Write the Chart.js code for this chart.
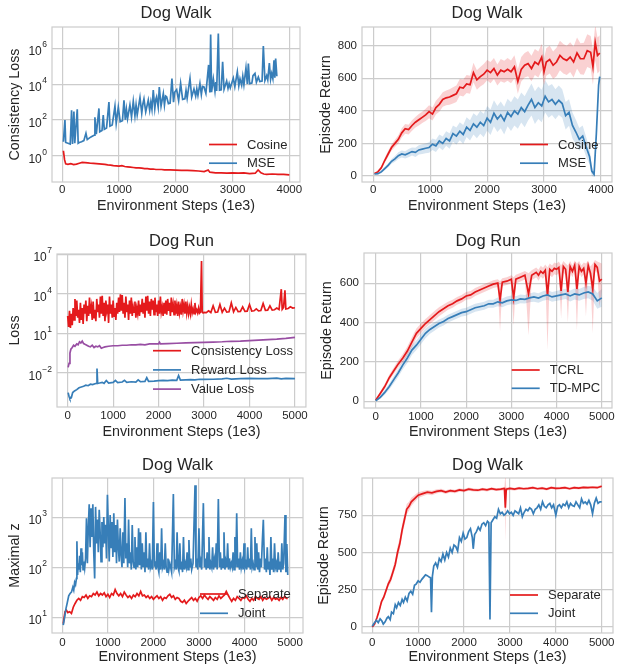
<!DOCTYPE html>
<html>
<head>
<meta charset="utf-8">
<script src="https://cdn.jsdelivr.net/npm/chart.js@4.4.0/dist/chart.umd.min.js"></script>
<style>
  body { margin: 0; background: #fff; width: 618px; height: 666px; position: relative; overflow: hidden; }
  canvas { position: absolute; }
</style>
</head>
<body>
<canvas id="walkLoss" width="310" height="222" style="left:0;top:0"></canvas>
<canvas id="walkReturn" width="308" height="222" style="left:310px;top:0"></canvas>
<canvas id="runLoss" width="310" height="222" style="left:0;top:222px"></canvas>
<canvas id="runReturn" width="308" height="222" style="left:310px;top:222px"></canvas>
<canvas id="walkZ" width="310" height="222" style="left:0;top:444px"></canvas>
<canvas id="walkSep" width="308" height="222" style="left:310px;top:444px"></canvas>
<script>
// ---- data, [step (1e3), value] or [step, mean, spread] ----

// Dog Walk, consistency loss
const walkCosineLoss = [[20,1.9],[40,0.6],[60,0.35],[100,0.33],[150,0.36],[200,0.32],[250,0.34],[300,0.38],[350,0.42],[400,0.41],[450,0.4],[500,0.38],[550,0.37],[600,0.36],[650,0.35],[700,0.34],[750,0.33],[800,0.31],[850,0.3],[900,0.28],[950,0.27],[1000,0.26],[1050,0.28],[1100,0.25],[1150,0.24],[1200,0.23],[1250,0.22],[1300,0.21],[1350,0.21],[1400,0.2],[1450,0.19],[1500,0.19],[1550,0.18],[1600,0.18],[1650,0.17],[1700,0.17],[1750,0.17],[1800,0.16],[1900,0.16],[2000,0.155],[2100,0.15],[2200,0.15],[2300,0.145],[2400,0.14],[2500,0.13],[2570,0.16],[2600,0.12],[2700,0.11],[2800,0.11],[2900,0.105],[3000,0.11],[3100,0.105],[3200,0.11],[3300,0.1],[3400,0.105],[3450,0.16],[3500,0.11],[3550,0.095],[3600,0.09],[3700,0.095],[3800,0.09],[3900,0.09],[4000,0.085]];
const walkMseLoss = [[20,6],[47,100],[60,5.5],[100,5],[140,4.5],[164,350],[180,4.5],[205,300],[220,5],[264,400],[280,5],[300,5.5],[340,6],[380,7],[417,18],[440,8],[480,10],[520,12],[560,14],[575,140],[600,16],[646,440],[660,22],[700,26],[722,190],[740,30],[780,36],[822,1000],[840,45],[880,52],[928,590],[950,64],[987,520],[1020,80],[1060,90],[1087,1260],[1110,102],[1130,400],[1150,118],[1192,700],[1220,145],[1251,1130],[1280,170],[1300,700],[1320,190],[1369,1800],[1400,238],[1420,800],[1439,1500],[1470,285],[1515,1300],[1540,350],[1560,1000],[1580,390],[1603,4700],[1630,440],[1650,1500],[1662,2000],[1690,520],[1709,7000],[1740,590],[1780,3000],[1800,680],[1820,2200],[1838,2000],[1870,810],[1900,870],[1932,21000],[1960,990],[1980,3500],[2015,5000],[2050,1200],[2085,11000],[2120,1400],[2160,1520],[2180,4500],[2200,1640],[2250,21000],[2280,1900],[2320,5500],[2350,2150],[2370,5500],[2390,2350],[2425,11000],[2450,2650],[2470,7500],[2496,7000],[2530,3050],[2578,120000],[2600,3450],[2614,6000000],[2630,3600],[2661,20000],[2690,4000],[2705,13000],[2720,4250],[2749,6800000],[2770,4600],[2800,4850],[2825,180000],[2850,5200],[2896,15000],[2920,5900],[2940,11000],[2960,6300],[3013,22000],[3040,7200],[3084,49000],[3110,8100],[3131,20000],[3160,8800],[3180,28000],[3200,9300],[3236,80000],[3260,10200],[3278,145000],[3300,10800],[3340,11500],[3360,30000],[3395,40000],[3420,13000],[3454,25000],[3480,14200],[3520,15000],[3542,1350000],[3570,16200],[3601,30000],[3620,17500],[3648,150000],[3670,18800],[3689,40000],[3710,20500],[3730,220000],[3745,23000],[3759,270000],[3780,28000]];

// Dog Walk, episode return [step, mean, spread]
const walkCosineReturn = [[20,15,5],[80,25,8],[140,50,12],[200,95,15],[260,135,18],[320,175,20],[380,200,22],[440,225,25],[500,265,28],[560,290,30],[620,285,30],[680,310,32],[740,330,32],[800,345,35],[860,360,35],[920,375,38],[980,395,40],[1040,380,40],[1100,420,42],[1160,440,45],[1220,470,45],[1280,480,45],[1340,485,48],[1400,495,50],[1460,505,50],[1520,545,50],[1580,540,52],[1640,565,55],[1700,560,55],[1760,635,60],[1820,590,60],[1880,610,60],[1940,625,62],[2000,650,62],[2060,635,65],[2120,660,65],[2180,620,65],[2240,650,68],[2300,640,68],[2360,655,70],[2420,640,70],[2480,670,72],[2540,580,75],[2600,655,75],[2660,680,75],[2720,690,78],[2780,660,78],[2840,700,80],[2900,685,80],[2960,730,82],[3000,640,82],[3040,700,85],[3100,715,85],[3160,680,85],[3220,700,88],[3280,740,90],[3340,720,90],[3400,710,90],[3460,730,92],[3520,700,95],[3580,755,95],[3640,720,95],[3700,720,98],[3760,770,100],[3820,760,100],[3860,670,110],[3900,820,110],[3940,740,110],[3980,755,110]];
const walkMseReturn = [[20,12,4],[80,14,5],[140,25,8],[200,45,10],[260,65,12],[320,90,15],[380,105,18],[440,125,20],[500,135,22],[560,130,22],[620,140,25],[680,150,25],[740,145,28],[800,160,28],[860,165,30],[920,170,30],[980,175,32],[1040,195,35],[1100,185,38],[1160,215,40],[1220,200,42],[1280,230,45],[1340,215,48],[1400,260,50],[1460,245,52],[1520,275,55],[1580,255,58],[1640,300,60],[1700,280,62],[1760,320,65],[1820,300,68],[1880,330,70],[1940,310,72],[2000,355,75],[2060,330,78],[2120,385,80],[2180,350,80],[2240,375,82],[2300,340,85],[2360,390,85],[2420,365,88],[2480,400,90],[2540,380,90],[2600,420,92],[2660,395,95],[2720,435,95],[2780,470,98],[2840,420,100],[2900,450,100],[2960,430,100],[3020,490,100],[3080,455,98],[3140,470,95],[3200,440,92],[3260,465,90],[3320,445,88],[3380,370,85],[3440,390,82],[3500,310,80],[3560,270,75],[3620,225,70],[3680,245,65],[3740,180,60],[3800,120,50],[3840,30,30],[3880,10,15],[3920,260,40],[3960,560,40],[3980,610,30]];

// Dog Run, losses
const runConsistencyLoss = [[0,200],[20,30],[40,500],[60,25],[80,300],[100,40],[120,800],[140,100],[160,4000],[180,200],[200,3000],[220,150],[240,600],[260,60],[280,2000],[300,100],[320,800],[340,50],[360,1500],[380,300],[400,3000],[420,80],[440,1200],[460,200],[480,5000],[500,300],[520,1000],[540,100],[560,2500],[580,150],[600,600],[620,80],[640,4000],[660,400],[680,1500],[700,150],[720,6000],[740,300],[760,7000],[780,200],[800,2000],[820,80],[840,3000],[860,500],[880,1500],[900,60],[920,6000],[940,300],[960,1500],[980,150],[1000,3000],[1020,200],[1040,800],[1060,100],[1080,2000],[1100,300],[1120,5000],[1140,400],[1160,9000],[1180,500],[1200,8000],[1220,300],[1240,2000],[1260,150],[1280,6000],[1300,400],[1320,1500],[1340,100],[1360,3000],[1380,300],[1400,5000],[1420,200],[1440,1000],[1460,400],[1480,2500],[1500,150],[1520,800],[1540,300],[1560,3000],[1580,200],[1600,1500],[1620,400],[1640,4000],[1660,300],[1680,2000],[1700,150],[1720,6000],[1740,500],[1760,7000],[1780,300],[1800,2500],[1820,200],[1840,4000],[1860,600],[1880,3000],[1900,250],[1920,5000],[1940,400],[1960,1500],[1980,200],[2000,3000],[2020,300],[2040,6000],[2060,400],[2080,1000],[2100,200],[2120,2000],[2140,300],[2160,3000],[2180,250],[2200,4000],[2220,500],[2240,2000],[2260,200],[2280,5000],[2300,400],[2320,1500],[2340,250],[2360,3000],[2380,300],[2400,1200],[2420,200],[2440,2500],[2460,350],[2480,1000],[2500,250],[2520,4000],[2540,500],[2560,1500],[2580,300],[2600,2500],[2620,350],[2640,1200],[2660,300],[2680,900],[2700,300],[2720,1500],[2740,350],[2760,700],[2780,300],[2800,2000],[2820,400],[2840,600],[2860,350],[2880,800],[2900,330],[2920,400],[2945,3000000],[2960,400],[2980,340],[3000,380],[3050,360],[3100,500],[3150,370],[3200,1200],[3250,380],[3300,400],[3350,1500],[3400,390],[3450,800],[3500,400],[3550,420],[3600,2000],[3650,420],[3700,900],[3750,430],[3800,450],[3850,1000],[3900,450],[3950,470],[4000,1500],[4050,480],[4100,500],[4150,700],[4200,500],[4250,520],[4300,1800],[4350,540],[4400,560],[4450,1200],[4500,570],[4550,600],[4600,800],[4650,620],[4700,22000],[4720,650],[4750,900],[4780,18000],[4800,700],[4850,750],[4900,1000],[4950,800],[5000,850]];
const runRewardLoss = [[10,0.0003],[30,0.00015],[50,0.0001],[80,0.00012],[110,0.0003],[150,0.0004],[200,0.0005],[250,0.0007],[300,0.0008],[350,0.0009],[400,0.0011],[450,0.001],[500,0.0013],[550,0.0012],[600,0.0014],[630,0.0015],[645,0.02],[660,0.0015],[700,0.0016],[760,0.0018],[800,0.0015],[850,0.0025],[900,0.0016],[1000,0.0018],[1050,0.0025],[1100,0.0017],[1200,0.0019],[1250,0.0026],[1300,0.0018],[1400,0.002],[1500,0.0019],[1550,0.0028],[1600,0.002],[1700,0.0021],[1740,0.004],[1780,0.0021],[1900,0.0022],[2000,0.0024],[2100,0.0025],[2200,0.0024],[2300,0.0027],[2400,0.0026],[2440,0.006],[2480,0.0027],[2600,0.0028],[2700,0.0029],[2800,0.0028],[2900,0.0031],[3000,0.003],[3200,0.0031],[3400,0.0033],[3500,0.0037],[3600,0.0032],[3800,0.0034],[4000,0.0036],[4200,0.0034],[4400,0.0035],[4600,0.0038],[4700,0.0033],[4800,0.0036],[5000,0.0034]];
const runValueLoss = [[10,0.025],[30,0.05],[50,0.3],[70,0.6],[100,0.8],[130,1.2],[160,1.0],[200,1.5],[230,1.3],[260,2.2],[290,1.8],[320,2.5],[350,1.6],[380,1.4],[420,1.2],[460,1.0],[500,0.9],[540,1.2],[580,0.8],[620,1.0],[660,0.9],[700,1.1],[740,0.7],[780,0.8],[820,0.9],[900,1.0],[1000,1.1],[1100,1.1],[1200,1.2],[1300,1.2],[1400,1.3],[1500,1.3],[1600,1.4],[1700,1.3],[1800,1.5],[1900,1.5],[2000,1.5],[2020,2.0],[2040,1.5],[2200,1.6],[2400,1.7],[2600,1.8],[2800,1.9],[3000,2.0],[3200,2.1],[3400,2.2],[3600,2.4],[3800,2.5],[4000,2.7],[4200,2.9],[4400,3.2],[4600,3.5],[4800,4.0],[5000,4.8]];

// Dog Run, episode return
// TCRL: [step, mean, lower, upper]
const runTcrlReturn = [[0,5,0,10],[100,40,30,50],[200,75,62,88],[300,120,105,135],[400,155,138,172],[500,190,172,208],[600,220,200,240],[700,255,232,278],[800,300,275,325],[900,345,320,370],[1000,370,345,395],[1100,395,372,418],[1200,415,392,438],[1300,435,412,458],[1400,455,432,478],[1500,470,448,492],[1600,485,465,505],[1700,495,475,515],[1800,510,490,530],[1900,520,500,540],[2000,535,515,555],[2100,540,520,560],[2200,555,535,575],[2300,565,545,585],[2400,575,555,595],[2500,585,565,605],[2600,595,575,615],[2700,600,580,620],[2750,515,355,610],[2800,605,585,625],[2900,610,590,630],[3000,620,600,640],[3050,525,385,630],[3100,620,598,642],[3200,630,608,652],[3300,640,618,662],[3380,545,335,650],[3450,640,615,665],[3550,655,630,680],[3600,640,612,668],[3650,660,632,688],[3700,650,622,678],[3750,665,636,694],[3800,540,262,680],[3850,670,640,700],[3900,660,630,690],[3950,675,645,705],[4000,670,640,700],[4050,680,650,710],[4100,560,420,690],[4150,685,655,712],[4200,670,640,700],[4250,555,400,690],[4300,685,655,712],[4350,660,630,690],[4400,690,660,715],[4450,570,360,700],[4500,685,655,712],[4550,660,630,690],[4600,675,645,705],[4650,600,430,700],[4700,690,660,715],[4750,650,615,685],[4800,570,345,700],[4850,695,665,718],[4900,680,650,710],[4950,610,480,705],[5000,620,560,700]];
const runTdmpcReturn = [[0,3,3],[100,20,8],[200,45,12],[300,75,15],[400,110,18],[500,145,20],[600,185,22],[700,220,25],[800,260,25],[900,285,25],[1000,315,25],[1100,345,25],[1200,365,22],[1300,380,22],[1400,395,20],[1500,405,20],[1600,420,20],[1700,430,20],[1800,440,20],[1900,450,20],[2000,455,20],[2100,465,20],[2200,475,20],[2300,480,20],[2400,485,20],[2500,495,20],[2600,495,20],[2700,505,22],[2800,500,22],[2900,510,22],[3000,515,22],[3100,512,22],[3200,520,22],[3300,518,22],[3400,525,22],[3500,530,24],[3600,524,24],[3700,535,24],[3800,540,25],[3900,530,25],[4000,535,25],[4100,540,26],[4200,545,26],[4300,535,28],[4400,545,28],[4500,540,30],[4600,550,30],[4700,555,32],[4800,545,35],[4900,510,40],[5000,525,45]];

// Dog Walk, maximal z
const walkSeparateZ = [[20,7.5],[40,10],[60,13],[90,14],[120,12.5],[160,13],[200,12],[240,16],[280,19],[320,22],[360,24],[400,22],[440,26],[480,25],[520,28],[560,24],[600,27],[640,26],[680,30],[720,28],[760,32],[800,27],[840,30],[880,28],[920,31],[960,26],[1000,29],[1040,25],[1080,30],[1120,28],[1160,36],[1200,30],[1240,27],[1280,30],[1320,26],[1360,32],[1400,28],[1440,25],[1480,27],[1520,24],[1560,28],[1600,26],[1640,30],[1680,27],[1720,33],[1760,27],[1800,28],[1840,25],[1880,27],[1920,24],[1960,26],[2000,23],[2040,25],[2080,27],[2120,24],[2160,26],[2200,22],[2240,25],[2280,24],[2320,27],[2360,29],[2400,25],[2440,27],[2480,23],[2520,25],[2560,24],[2600,21],[2640,20],[2680,22],[2720,19],[2760,21],[2800,23],[2840,25],[2880,22],[2920,24],[2960,21],[3000,25],[3040,27],[3080,24],[3120,28],[3160,25],[3200,23],[3240,26],[3280,24],[3320,22],[3360,25],[3400,23],[3440,27],[3480,24],[3520,26],[3560,28],[3600,33],[3640,28],[3680,24],[3720,21],[3760,24],[3800,22],[3840,26],[3880,24],[3920,22],[3960,25],[4000,24],[4040,27],[4080,23],[4120,21],[4160,24],[4200,22],[4240,26],[4280,24],[4320,23],[4360,26],[4400,22],[4440,25],[4480,23],[4520,24],[4560,26],[4600,22],[4640,25],[4680,23],[4720,24],[4760,22],[4800,25],[4840,23],[4880,26],[4920,24],[4950,24]];
const walkJointZ = [[20,7],[50,10],[80,15],[110,20],[140,27],[170,30],[200,32],[230,40],[250,35],[270,50],[290,45],[310,60],[320,330],[335,70],[350,120],[365,90],[380,170],[395,80],[410,240],[425,110],[440,200],[455,90],[470,130],[490,95],[510,150],[530,950],[550,120],[570,600],[590,1800],[610,250],[630,1500],[650,400],[670,1800],[690,200],[710,60],[730,1600],[750,300],[770,900],[790,200],[810,1400],[830,500],[850,130],[870,800],[890,250],[910,1000],[930,300],[950,700],[970,150],[990,2800],[1010,600],[1030,130],[1050,1100],[1070,250],[1090,800],[1110,160],[1130,1200],[1150,200],[1170,700],[1190,120],[1210,900],[1230,250],[1250,130],[1270,600],[1290,180],[1310,100],[1330,500],[1350,120],[1375,2400],[1395,150],[1415,300],[1435,100],[1455,900],[1475,120],[1495,200],[1515,90],[1535,700],[1555,130],[1575,100],[1595,400],[1615,90],[1635,250],[1655,100],[1675,600],[1695,110],[1715,500],[1735,90],[1755,300],[1775,100],[1795,200],[1815,80],[1835,500],[1855,100],[1875,150],[1895,90],[1915,300],[1935,100],[1955,120],[1975,90],[2000,2000],[2020,110],[2040,120],[2060,90],[2080,300],[2100,100],[2120,80],[2140,200],[2160,90],[2180,600],[2200,100],[2220,120],[2240,90],[2260,300],[2280,100],[2300,80],[2320,150],[2340,90],[2360,120],[2380,100],[2400,80],[2438,2900],[2460,100],[2480,120],[2500,90],[2520,500],[2540,100],[2560,85],[2580,300],[2600,90],[2620,130],[2640,80],[2660,400],[2680,90],[2700,120],[2720,100],[2740,200],[2760,90],[2780,350],[2800,100],[2820,150],[2840,90],[2870,120],[2914,4300],[2935,100],[2955,150],[2975,90],[3000,600],[3020,100],[3040,130],[3060,90],[3097,1900],[3120,100],[3140,150],[3160,90],[3180,200],[3200,100],[3220,400],[3240,90],[3260,120],[3280,100],[3300,250],[3320,90],[3340,140],[3360,100],[3380,300],[3400,90],[3426,2300],[3450,100],[3470,200],[3490,90],[3510,150],[3530,100],[3550,500],[3570,90],[3590,130],[3610,100],[3630,300],[3650,90],[3670,150],[3690,100],[3710,120],[3730,100],[3750,200],[3770,90],[3790,400],[3810,100],[3829,1200],[3850,100],[3870,150],[3890,90],[3910,200],[3930,100],[3950,130],[3970,90],[3990,300],[4010,100],[4030,120],[4050,90],[4070,250],[4090,100],[4110,150],[4130,90],[4150,600],[4170,100],[4190,120],[4210,90],[4230,400],[4250,100],[4270,300],[4290,90],[4310,200],[4330,80],[4350,150],[4370,100],[4390,300],[4414,890],[4440,90],[4460,150],[4480,80],[4500,250],[4520,90],[4540,130],[4560,70],[4580,400],[4600,90],[4620,150],[4640,80],[4660,300],[4680,100],[4700,120],[4720,80],[4740,200],[4760,90],[4780,130],[4800,80],[4820,300],[4840,90],[4860,120],[4890,1100],[4910,80],[4930,290],[4950,70]];

// Dog Walk, separate vs joint return
const walkSeparateReturn = [[0,0,2],[50,20,5],[100,60,10],[150,110,12],[200,170,15],[250,200,18],[300,245,20],[350,290,22],[400,320,25],[450,370,28],[500,420,32],[550,500,38],[600,560,40],[650,650,40],[700,720,38],[750,790,35],[800,810,30],[850,840,28],[900,855,25],[950,870,22],[1000,885,20],[1100,895,18],[1200,905,15],[1300,900,15],[1400,910,14],[1500,915,13],[1600,905,13],[1700,915,12],[1800,910,12],[1900,920,12],[2000,915,11],[2100,925,11],[2200,920,11],[2300,918,10],[2400,925,10],[2500,920,10],[2600,928,10],[2700,922,10],[2800,925,10],[2880,930,12],[2900,800,225],[2920,925,12],[3000,930,10],[3100,925,10],[3200,932,9],[3300,928,9],[3400,930,9],[3500,935,9],[3600,928,9],[3700,932,9],[3800,925,9],[3900,935,9],[4000,930,9],[4100,932,9],[4200,935,9],[4300,928,9],[4400,935,9],[4500,932,9],[4600,937,9],[4700,935,9],[4800,938,9],[4900,935,9],[5000,945,9]];
const walkJointReturn = [[0,5],[40,25],[90,45],[130,30],[170,55],[210,40],[240,20],[280,35],[320,60],[350,70],[390,50],[420,100],[460,90],[500,150],[530,130],[570,165],[610,145],[650,185],[680,165],[720,200],[760,175],[800,225],[840,240],[880,220],[920,280],[960,290],[1000,310],[1040,300],[1080,320],[1120,335],[1160,350],[1200,345],[1240,335],[1270,330],[1290,100],[1310,340],[1340,410],[1380,430],[1420,400],[1460,460],[1500,440],[1540,490],[1580,450],[1620,500],[1660,470],[1700,530],[1740,500],[1780,550],[1820,540],[1860,510],[1900,600],[1940,575],[1980,630],[2020,590],[2060,600],[2100,640],[2140,660],[2180,600],[2200,525],[2230,620],[2270,640],[2310,670],[2350,650],[2390,690],[2430,700],[2470,680],[2510,710],[2540,700],[2565,50],[2590,700],[2630,720],[2670,740],[2710,730],[2750,790],[2790,760],[2830,770],[2870,750],[2910,760],[2950,780],[2990,760],[3030,770],[3070,750],[3110,780],[3150,770],[3190,760],[3230,800],[3270,740],[3310,770],[3350,790],[3390,780],[3430,800],[3470,790],[3510,760],[3550,790],[3590,800],[3630,820],[3670,790],[3710,840],[3750,810],[3790,800],[3830,820],[3870,830],[3910,800],[3950,820],[4000,750],[4040,810],[4080,820],[4120,800],[4160,825],[4200,815],[4240,840],[4280,800],[4320,830],[4360,815],[4400,810],[4440,840],[4480,820],[4520,800],[4560,860],[4600,830],[4640,840],[4680,825],[4720,850],[4760,820],[4800,760],[4840,830],[4880,865],[4920,830],[4960,840],[5000,840]];

// ticks
const stepTicks4k = [0, 1000, 2000, 3000, 4000];
const stepTicks5k = [0, 1000, 2000, 3000, 4000, 5000];
const walkLossTicks = [1, 1e2, 1e4, 1e6];
const runLossTicks = [1e-2, 1e1, 1e4, 1e7];
const zTicks = [1e1, 1e2, 1e3];
const walkReturnTicks = [0, 200, 400, 600, 800];
const runReturnTicks = [0, 200, 400, 600];
const sepReturnTicks = [0, 250, 500, 750];

// ---- styling ----
const RED = '#e41a1c', BLUE = '#377eb8', PURPLE = '#984ea3';
const RED_BAND = 'rgba(228,26,28,0.2)', BLUE_BAND = 'rgba(55,126,184,0.2)';
const INK = '#262626', GRID = '#cccccc';
const FAMILY = '"Liberation Sans", Arial, sans-serif';

// light grey box round the plot area, like the whitegrid style
const frame = {
  id: 'frame',
  beforeDatasetsDraw(chart) {
    const { ctx, chartArea: a } = chart;
    ctx.save();
    ctx.strokeStyle = GRID;
    ctx.lineWidth = 1.2;
    ctx.strokeRect(a.left, a.top, a.right - a.left, a.bottom - a.top);
    ctx.restore();
  }
};

// centre the title over the plot area instead of the whole canvas
const centerTitle = {
  id: 'centerTitle',
  afterLayout(chart) {
    const t = chart.titleBlock;
    if (!t) return;
    t.left = chart.chartArea.left;
    t.right = chart.chartArea.right;
    t.width = t.right - t.left;
  }
};

// log axis labels as 10 with a raised exponent, placed on the scale's own ticks
const powerTicks = {
  id: 'powerTicks',
  afterDraw(chart) {
    const s = chart.scales.y;
    if (!s || s.type !== 'logarithmic') return;
    const ctx = chart.ctx;
    const right = chart.chartArea.left - 5;
    ctx.save();
    ctx.fillStyle = INK;
    ctx.textAlign = 'right';
    ctx.textBaseline = 'alphabetic';
    s.ticks.forEach(t => {
      const y = s.getPixelForValue(t.value);
      const e = String(Math.round(Math.log10(t.value))).replace('-', '\u2212');
      ctx.font = '8.5px ' + FAMILY;
      ctx.fillText(e, right, y - 1);
      const w = ctx.measureText(e).width;
      ctx.font = '12px ' + FAMILY;
      ctx.fillText('10', right - w - 0.5, y + 7);
    });
    ctx.restore();
  }
};

// frameless legend drawn inside the plot, lower right
const insideLegend = {
  id: 'insideLegend',
  afterDraw(chart, args, opts) {
    if (!opts || opts.x === undefined) return;
    const ctx = chart.ctx;
    ctx.save();
    ctx.font = '13px ' + FAMILY;
    ctx.textBaseline = 'middle';
    chart.data.datasets.filter(d => d.label).forEach((d, i) => {
      const y = opts.y + i * opts.gap;
      ctx.strokeStyle = d.borderColor;
      ctx.lineWidth = 1.7;
      ctx.beginPath();
      ctx.moveTo(opts.x, y);
      ctx.lineTo(opts.x + 28, y);
      ctx.stroke();
      ctx.fillStyle = INK;
      ctx.fillText(d.label, opts.x + 38, y + 0.5);
    });
    ctx.restore();
  }
};

Chart.register(frame, centerTitle, powerTicks, insideLegend);

function line(label, rows, color, order) {
  return { label, data: rows.map(r => ({ x: r[0], y: r[1] })), borderColor: color, borderWidth: 1.7, pointRadius: 0, fill: false, order };
}
function band(rows, color, lo, hi) {
  const edge = { borderWidth: 0, borderColor: 'transparent', pointRadius: 0, order: 50 };
  return [
    Object.assign({ data: rows.map(r => ({ x: r[0], y: lo(r) })), fill: false }, edge),
    Object.assign({ data: rows.map(r => ({ x: r[0], y: hi(r) })), fill: '-1', backgroundColor: color }, edge)
  ];
}
const spreadLo = r => r[1] - r[2], spreadHi = r => r[1] + r[2];

function panel(id, o) {
  const tickFont = { family: FAMILY, size: 11.5 };
  const labelFont = { family: FAMILY, size: 14.3 };
  const yLog = o.yType === 'logarithmic';
  new Chart(document.getElementById(id), {
    type: 'line',
    data: { datasets: o.datasets },
    options: {
      responsive: false,
      animation: false,
      devicePixelRatio: 1,
      layout: { padding: { left: 0, right: o.padRight, top: 0, bottom: 0 } },
      plugins: {
        legend: { display: false },
        tooltip: { enabled: false },
        title: {
          display: true, text: o.title, color: INK,
          font: { family: FAMILY, size: 16.5, weight: 'normal' },
          padding: { top: o.titlePad[0], bottom: o.titlePad[1] }
        },
        insideLegend: o.legend
      },
      scales: {
        x: {
          type: 'linear', min: o.xRange[0], max: o.xRange[1],
          afterBuildTicks: s => { s.ticks = o.xTicks.map(v => ({ value: v })); },
          afterFit: s => { s.height = o.xHeight; },
          grid: { color: GRID, lineWidth: 1.2, drawTicks: false },
          border: { display: false },
          ticks: { color: INK, font: tickFont, padding: o.xTickPad, maxRotation: 0, callback: v => String(v) },
          title: { display: true, text: 'Environment Steps (1e3)', color: INK, font: labelFont, padding: { top: 0, bottom: o.xTitlePad } }
        },
        y: {
          type: o.yType, min: o.yRange[0], max: o.yRange[1],
          afterBuildTicks: s => { s.ticks = o.yTicks.map(v => ({ value: v })); },
          afterFit: s => { s.width = o.yWidth; },
          grid: { color: GRID, lineWidth: 1.2, drawTicks: false },
          border: { display: false },
          // log axes get their labels from the powerTicks plugin
          ticks: { display: !yLog, color: INK, font: tickFont, padding: 5, callback: v => String(v) },
          title: { display: true, text: o.yTitle, color: INK, font: labelFont, padding: { top: o.yTitlePad, bottom: 0 } }
        }
      }
    }
  });
}

panel('walkLoss', {
  title: 'Dog Walk', yTitle: 'Consistency Loss', yType: 'logarithmic',
  datasets: [line('Cosine', walkCosineLoss, RED, 2), line('MSE', walkMseLoss, BLUE, 1)],
  xRange: [-181, 4188], xTicks: stepTicks4k, yRange: [Math.pow(10, -1.47), Math.pow(10, 7.2)], yTicks: walkLossTicks,
  padRight: 10, yWidth: 52, xHeight: 40, titlePad: [3.3, 3.9], xTickPad: 0.5, xTitlePad: 7.8, yTitlePad: 6.8,
  legend: { x: 209, y: 144.5, gap: 18.7 }
});

panel('walkReturn', {
  title: 'Dog Walk', yTitle: 'Episode Return', yType: 'linear',
  datasets: [line('Cosine', walkCosineReturn, RED, 2), line('MSE', walkMseReturn, BLUE, 1)]
    .concat(band(walkCosineReturn, RED_BAND, spreadLo, spreadHi), band(walkMseReturn, BLUE_BAND, spreadLo, spreadHi)),
  xRange: [-199, 4195], xTicks: stepTicks4k, yRange: [-37, 915], yTicks: walkReturnTicks,
  padRight: 6, yWidth: 52, xHeight: 40, titlePad: [3.3, 3.9], xTickPad: 0.5, xTitlePad: 7.8, yTitlePad: 7.1,
  legend: { x: 210, y: 144.5, gap: 18.7 }
});

panel('runLoss', {
  title: 'Dog Run', yTitle: 'Loss', yType: 'logarithmic',
  datasets: [line('Consistency Loss', runConsistencyLoss, RED, 3), line('Reward Loss', runRewardLoss, BLUE, 2), line('Value Loss', runValueLoss, PURPLE, 1)],
  xRange: [-235, 5242], xTicks: stepTicks5k, yRange: [Math.pow(10, -4.62), Math.pow(10, 7.02)], yTicks: runLossTicks,
  padRight: 4, yWidth: 57, xHeight: 37, titlePad: [9.6, 2.6], xTickPad: 2.1, xTitlePad: 3.3, yTitlePad: 6.6,
  legend: { x: 153, y: 128.7, gap: 19.2 }
});

panel('runReturn', {
  title: 'Dog Run', yTitle: 'Episode Return', yType: 'linear',
  datasets: [line('TCRL', runTcrlReturn, RED, 2), line('TD-MPC', runTdmpcReturn, BLUE, 1)]
    .concat(band(runTcrlReturn, RED_BAND, r => r[2], r => r[3]), band(runTdmpcReturn, BLUE_BAND, spreadLo, spreadHi)),
  xRange: [-259, 5226], xTicks: stepTicks5k, yRange: [-34, 753], yTicks: runReturnTicks,
  padRight: 6, yWidth: 54, xHeight: 36, titlePad: [9.6, 1.6], xTickPad: 2.3, xTitlePad: 3.8, yTitlePad: 8.5,
  legend: { x: 201.7, y: 148, gap: 18.3 }
});

panel('walkZ', {
  title: 'Dog Walk', yTitle: 'Maximal z', yType: 'logarithmic',
  datasets: [line('Separate', walkSeparateZ, RED, 2), line('Joint', walkJointZ, BLUE, 1)],
  xRange: [-227, 5285], xTicks: stepTicks5k, yRange: [Math.pow(10, 0.69), Math.pow(10, 3.78)], yTicks: zTicks,
  padRight: 7, yWidth: 52, xHeight: 33, titlePad: [11.9, 2.3], xTickPad: 3.1, xTitlePad: 0, yTitlePad: 6,
  legend: { x: 200, y: 150, gap: 19.3 }
});

panel('walkSep', {
  title: 'Dog Walk', yTitle: 'Episode Return', yType: 'linear',
  datasets: [line('Separate', walkSeparateReturn, RED, 2), line('Joint', walkJointReturn, BLUE, 1)]
    .concat(band(walkSeparateReturn, RED_BAND, spreadLo, spreadHi)),
  xRange: [-224, 5246], xTicks: stepTicks5k, yRange: [-40, 1000], yTicks: sepReturnTicks,
  padRight: 5, yWidth: 52, xHeight: 33, titlePad: [11.9, 2.3], xTickPad: 3, xTitlePad: 0, yTitlePad: 5.1,
  legend: { x: 200, y: 151, gap: 18.3 }
});
</script>
</body>
</html>
